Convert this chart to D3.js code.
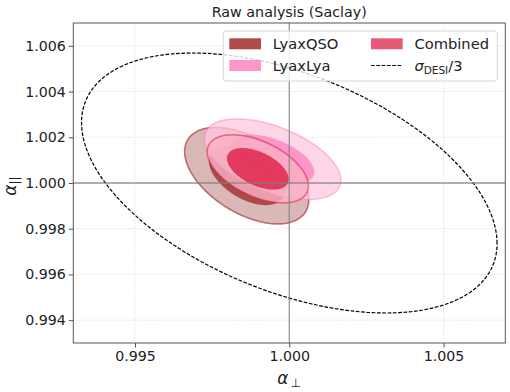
<!DOCTYPE html>
<html>
<head>
<meta charset="utf-8">
<script src="https://cdn.jsdelivr.net/npm/d3@7"></script>
<style>
  body { margin: 0; background: #fff; }
  svg { display: block; font-family: "DejaVu Sans", sans-serif; }
</style>
</head>
<body>
<div id="chart"></div>
<script>
// --- data ---
const xTicks = [0.995, 1.000, 1.005];
const yTicks = [0.994, 0.996, 0.998, 1.000, 1.002, 1.004, 1.006];
const xDomain = [0.993, 1.007];
const yDomain = [0.993, 1.007];

const datasets = ['LyaxQSO', 'LyaxLya', 'Combined'];
const centerX = [0.99862, 0.99946, 0.99898];
const centerY = [1.00032, 1.00104, 1.00062];
const sigmaX = [0.00081, 0.00089, 0.00066];
const sigmaY = [0.00085, 0.00071, 0.00060];
const rho = [-0.50, -0.52, -0.50];
const chi2Levels = [6.17, 2.30]; // 95% and 68% for 2 parameters

const desiCenter = [1.000, 1.000];
const desiSigma = [0.00444, 0.00375];
const desiRho = -0.465;

// --- styles ---
const baseColor = { LyaxQSO: '#8b0000', LyaxLya: '#ff69b4', Combined: '#dc143c' };
const outerFill = { LyaxQSO: 'rgb(207,160,160)', LyaxLya: 'rgb(255,200,224)', Combined: 'rgb(250,178,196)' };

const width = 510, height = 392;
const plot = { left: 73.3, right: 505.3, top: 23, bottom: 343 };

const svg = d3.select('#chart').append('svg')
  .attr('width', width)
  .attr('height', height);

const x = d3.scaleLinear().domain(xDomain).range([plot.left, plot.right]);
const y = d3.scaleLinear().domain(yDomain).range([plot.bottom, plot.top]);

const clip = svg.append('defs').append('clipPath').attr('id', 'plot-clip');
clip.append('rect')
  .attr('x', plot.left).attr('y', plot.top)
  .attr('width', plot.right - plot.left).attr('height', plot.bottom - plot.top);

// grid
const grid = svg.append('g');
grid.selectAll('.gx').data(xTicks).enter().append('line')
  .attr('x1', d => x(d)).attr('x2', d => x(d))
  .attr('y1', plot.top).attr('y2', plot.bottom)
  .attr('stroke', '#d0d0d0').attr('stroke-width', 0.8)
  .attr('stroke-dasharray', '1,1.6');
grid.selectAll('.gy').data(yTicks).enter().append('line')
  .attr('y1', d => y(d)).attr('y2', d => y(d))
  .attr('x1', plot.left).attr('x2', plot.right)
  .attr('stroke', '#d0d0d0').attr('stroke-width', 0.8)
  .attr('stroke-dasharray', '1,1.6');

// ellipse path from centre, sigmas, correlation and delta chi2
function ellipsePoints(cx, cy, sx, sy, r, lev) {
  const k = Math.sqrt(lev);
  const s = Math.sqrt(1 - r * r);
  return d3.range(0, 2 * Math.PI, Math.PI / 90).map(t => [
    cx + k * sx * Math.cos(t),
    cy + k * sy * (r * Math.cos(t) + s * Math.sin(t))
  ]);
}
const line = d3.line()
  .x(d => x(d[0]))
  .y(d => y(d[1]))
  .curve(d3.curveLinearClosed);

const g = svg.append('g').attr('clip-path', 'url(#plot-clip)');

datasets.forEach((name, i) => {
  // 95% contour
  g.append('path')
    .attr('d', line(ellipsePoints(centerX[i], centerY[i], sigmaX[i], sigmaY[i], rho[i], chi2Levels[0])))
    .attr('fill', outerFill[name])
    .attr('fill-opacity', name === 'Combined' ? 0.8 : 0.75)
    .attr('stroke', baseColor[name])
    .attr('stroke-opacity', name === 'LyaxLya' ? 0.4 : 0.5)
    .attr('stroke-width', 1.6);
  // 68% contour
  g.append('path')
    .attr('d', line(ellipsePoints(centerX[i], centerY[i], sigmaX[i], sigmaY[i], rho[i], chi2Levels[1])))
    .attr('fill', baseColor[name])
    .attr('fill-opacity', name === 'Combined' ? 0.75 : 0.6)
    .attr('stroke', 'none');
});

// DESI forecast
g.append('path')
  .attr('d', line(ellipsePoints(desiCenter[0], desiCenter[1], desiSigma[0], desiSigma[1], desiRho, chi2Levels[1])))
  .attr('fill', 'none')
  .attr('stroke', '#000')
  .attr('stroke-width', 1.2)
  .attr('stroke-dasharray', '3.7,1.6');

// reference lines at 1
g.append('line')
  .attr('x1', x(1)).attr('x2', x(1))
  .attr('y1', plot.top).attr('y2', plot.bottom)
  .attr('stroke', '#808080').attr('stroke-opacity', 0.8).attr('stroke-width', 1.3);
g.append('line')
  .attr('y1', y(1)).attr('y2', y(1))
  .attr('x1', plot.left).attr('x2', plot.right)
  .attr('stroke', '#808080').attr('stroke-opacity', 0.8).attr('stroke-width', 1.3);

// axes
const fmt = d3.format('.3f');
const xAxis = svg.append('g')
  .attr('transform', `translate(0,${plot.bottom})`)
  .call(d3.axisBottom(x).tickValues(xTicks).tickFormat(fmt).tickSize(4.5).tickPadding(3));
const yAxis = svg.append('g')
  .attr('transform', `translate(${plot.left},0)`)
  .call(d3.axisLeft(y).tickValues(yTicks).tickFormat(fmt).tickSize(4.5).tickPadding(3));
[xAxis, yAxis].forEach(a => {
  a.select('.domain').remove();
  a.selectAll('.tick line').attr('stroke', '#555');
  a.selectAll('.tick text')
    .attr('fill', '#222')
    .style('font-family', '"DejaVu Sans", sans-serif')
    .style('font-size', '14.2px');
});

// frame
svg.append('rect')
  .attr('x', plot.left).attr('y', plot.top)
  .attr('width', plot.right - plot.left).attr('height', plot.bottom - plot.top)
  .attr('fill', 'none').attr('stroke', '#555').attr('stroke-width', 1);

// title
svg.append('text')
  .attr('x', (plot.left + plot.right) / 2).attr('y', 16.5)
  .attr('text-anchor', 'middle')
  .style('font-size', '14.3px')
  .attr('fill', '#222')
  .text('Raw analysis (Saclay)');

// axis labels
const xl = svg.append('text')
  .attr('x', 289).attr('y', 384)
  .attr('text-anchor', 'middle')
  .attr('fill', '#222')
  .style('font-size', '17px');
xl.append('tspan').style('font-style', 'italic').text('α');
xl.append('tspan').attr('dx', 2).attr('dy', 3).style('font-size', '12px').text('⊥');

const yl = svg.append('text')
  .attr('transform', 'translate(16,186) rotate(-90)')
  .attr('text-anchor', 'middle')
  .attr('fill', '#222')
  .style('font-size', '17px');
yl.append('tspan').style('font-style', 'italic').text('α');
yl.append('tspan').attr('dy', 3).style('font-size', '12px').text('||');

// legend
const legend = svg.append('g');
legend.append('rect')
  .attr('x', 223.3).attr('y', 31)
  .attr('width', 274).attr('height', 50)
  .attr('rx', 3)
  .attr('fill', '#fff').attr('fill-opacity', 0.8)
  .attr('stroke', '#d6d6d6').attr('stroke-width', 1);

const legendPos = [
  { name: 'LyaxQSO', px: 229.3, py: 43.8 },
  { name: 'LyaxLya', px: 229.3, py: 65.5 },
  { name: 'Combined', px: 371, py: 43.8 }
];
legendPos.forEach(p => {
  legend.append('rect')
    .attr('x', p.px).attr('y', p.py - 5.5)
    .attr('width', 31.7).attr('height', 11)
    .attr('fill', baseColor[p.name]).attr('fill-opacity', 0.7);
  legend.append('text')
    .attr('x', p.px + 43.4).attr('y', p.py)
    .attr('dy', '0.36em')
    .attr('fill', '#222')
    .style('font-size', '14.7px')
    .text(p.name);
});
legend.append('line')
  .attr('x1', 371).attr('x2', 402.7)
  .attr('y1', 65.5).attr('y2', 65.5)
  .attr('stroke', '#000').attr('stroke-width', 1.2)
  .attr('stroke-dasharray', '3.7,1.6');
const sig = legend.append('text')
  .attr('x', 414.4).attr('y', 65.5)
  .attr('dy', '0.36em')
  .attr('fill', '#222')
  .style('font-size', '14.7px');
sig.append('tspan').style('font-style', 'italic').text('σ');
sig.append('tspan').attr('dy', 3).style('font-size', '10.5px').text('DESI');
sig.append('tspan').attr('dy', -3).text('/3');
</script>
</body>
</html>
